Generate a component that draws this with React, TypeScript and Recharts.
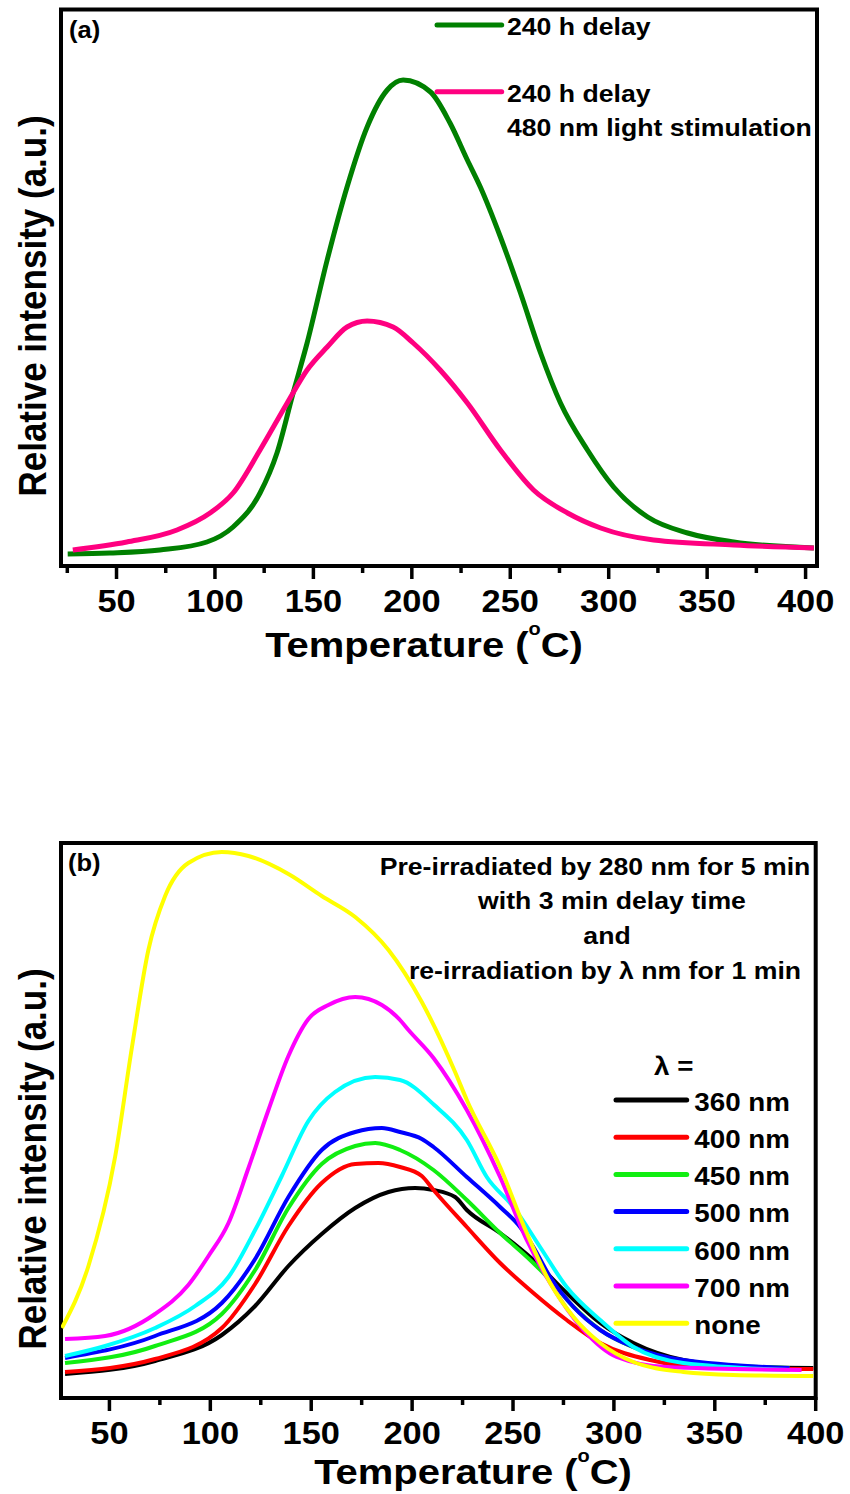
import React from 'react';
import { LineChart, Line, XAxis, YAxis, ReferenceArea, Legend, Customized } from 'recharts';

const FONT = '"Liberation Sans", Arial, Helvetica, sans-serif';
const SX = 1.11;

// ---------- Panel (a) ----------
const A_TICKS = [25, 50, 75, 100, 125, 150, 175, 200, 225, 250, 275, 300, 325, 350, 375, 400];
const A_DOMAIN_X = [21.8, 405.8];
const A_DOMAIN_Y = [0, 556.5];

const A_GREEN_T = [25.2, 46.6, 72, 95.9, 109.2, 122.9, 131.5, 139.7, 146.8, 157, 167.1, 177.3, 187.5, 195.6, 209.5, 219.4, 228.2, 234.8, 245, 255.2, 265.4, 275.5, 289.2, 302.5, 319.8, 340.1, 363.5, 404.2];
const A_GREEN_V = [12, 13, 16, 24, 39, 73, 113, 173, 223, 306, 379, 439, 476, 486, 474, 443, 406, 379, 329, 273, 213, 163, 116, 79, 49, 33, 24, 18];

const A_PINK_T = [27.8, 55.2, 80.7, 97.5, 109.2, 122.9, 136.7, 146.8, 157, 167.1, 177.3, 190.5, 200.7, 214.4, 228.2, 245, 261.8, 279.1, 295.9, 322.8, 363.5, 404.2];
const A_PINK_V = [16, 24, 36, 53, 73, 116, 163, 196, 219, 239, 245, 239, 223, 196, 163, 116, 76, 53, 38, 26, 21, 18];

const A_NAMES = ['240 h delay', '240 h delay\n480 nm light stimulation'];
const A_COLORS = ['#008000', '#FF0080'];

// ---------- Panel (b) ----------
const B_TICKS = [50, 75, 100, 125, 150, 175, 200, 225, 250, 275, 300, 325, 350, 375, 400];
const B_DOMAIN_X = [26, 400];
const B_DOMAIN_Y = [0, 555];

const B_360_T = [28, 72.6, 105.7, 122.2, 138.7, 155.2, 171.8, 188.3, 201.5, 210.6, 221.3, 227.1, 243.6, 260.1, 276.6, 293.2, 309.7, 334.4, 367.6, 398.8];
const B_360_V = [24, 37, 63, 92, 132, 164, 190, 206, 210, 208, 201, 188, 165, 138, 105, 75, 55, 38, 31, 30];

const B_400_T = [28, 72.6, 105.7, 122.2, 138.7, 155.2, 171.8, 183.3, 194, 204.8, 210.6, 227.1, 243.6, 260.1, 276.6, 293.2, 318, 342.6, 398.8];
const B_400_V = [26, 39, 70, 114, 172, 215, 234, 235, 231, 222, 208, 171, 135, 105, 78, 55, 38, 31, 29];

const B_450_T = [28, 72.6, 105.7, 122.2, 138.7, 155.2, 171.8, 181.7, 194, 210.6, 227.1, 243.6, 258.5, 268.4, 280, 293.2, 313, 342.6, 387];
const B_450_V = [35, 52, 84, 128, 190, 234, 252, 255, 248, 228, 198, 165, 138, 118, 91, 68, 48, 35, 30];

const B_500_T = [28, 72.6, 105.7, 122.2, 138.7, 155.2, 171.8, 185, 194, 204.8, 210.6, 227.1, 243.6, 253.5, 260.1, 268.4, 280, 293.2, 309.7, 334.4, 387];
const B_500_V = [40, 62, 95, 139, 201, 248, 266, 270, 266, 259, 251, 221, 191, 171, 151, 121, 91, 68, 51, 38, 30];

const B_600_T = [28, 47.9, 72.6, 92.5, 109, 122.2, 135.4, 148.6, 161.8, 181.7, 194, 211, 227.1, 237, 250.2, 263.4, 276.6, 293.2, 309.7, 334.4, 387.3];
const B_600_V = [42, 52, 70, 92, 121, 168, 222, 277, 306, 321, 318, 293, 258, 221, 191, 151, 111, 78, 51, 35, 28];

const B_700_T = [28, 47.9, 72.6, 89.1, 99.1, 109, 118.9, 128.8, 138.7, 148.6, 158.5, 171.8, 185, 194, 198.2, 210.6, 227.1, 243.6, 256.8, 268.4, 284.9, 301.4, 326.2, 393];
const B_700_V = [59, 62, 84, 113, 142, 175, 230, 288, 342, 379, 393, 401, 393, 378, 368, 340, 288, 221, 158, 115, 68, 41, 31, 28];

const B_NONE_T = [26.4, 39.6, 52.8, 61.1, 69.3, 77.6, 89.1, 105.7, 118.9, 138.7, 155.2, 171.8, 188.3, 204.8, 221.3, 227.1, 243.6, 256.8, 268.4, 280, 293.2, 309.7, 334.4, 359.2, 398.8];
const B_NONE_V = [70, 132, 241, 350, 448, 502, 535, 546, 542, 524, 502, 481, 448, 396, 326, 298, 231, 165, 115, 81, 55, 36, 26, 23, 22];

const B_NAMES = ['360 nm', '400 nm', '450 nm', '500 nm', '600 nm', '700 nm', 'none'];
const B_COLORS = ['#000000', '#FF0000', '#11EE11', '#0000FF', '#00FFFF', '#FF00FF', '#FFFF00'];
const B_T = [B_360_T, B_400_T, B_450_T, B_500_T, B_600_T, B_700_T, B_NONE_T];
const B_V = [B_360_V, B_400_V, B_450_V, B_500_V, B_600_V, B_700_V, B_NONE_V];

const B_NOTE = [
  'Pre-irradiated by 280 nm for 5 min',
  'with 3 min delay time',
  'and',
  're-irradiation by \u03bb nm for 1 min',
];

const zip = (t: number[], v: number[]) => t.map((x, i) => ({ t: x, v: v[i] }));

// ---------- helpers ----------
function ST({ x, y, size, anchor = 'start', rotate = false, children }: any) {
  const tf = rotate
    ? `translate(${x},${y}) rotate(-90) scale(1,${SX})`
    : `translate(${x},${y}) scale(${SX},1)`;
  return (
    <text transform={tf} x={0} y={0} fontSize={size} fontWeight="bold" fontFamily={FONT} textAnchor={anchor} fill="#000">
      {children}
    </text>
  );
}

const Tick = (props: any) => {
  const { x, y, payload } = props;
  const v = payload.value;
  const major = v % 50 === 0;
  return (
    <g>
      <line x1={x} y1={y - 1} x2={x} y2={y + (major ? 13 : 7)} stroke="#000" strokeWidth={3.5} />
      {major && (
        <ST x={x} y={y + 46} size={31} anchor="middle">
          {String(v)}
        </ST>
      )}
    </g>
  );
};

const XTitle = ({ x, y }: { x: number; y: number }) => (
  <ST x={x} y={y} size={36} anchor="middle">
    Temperature (
    <tspan fontSize={18} dy={-22}>o</tspan>
    <tspan fontSize={36} dy={22}>C)</tspan>
  </ST>
);

const LegendA = (props: any) => {
  const payload = props.payload && props.payload.length ? props.payload : A_NAMES.map((n, i) => ({ value: n, color: A_COLORS[i] }));
  const lineY = [25, 91.7];
  return (
    <svg width={400} height={150} style={{ overflow: 'visible' }}>
      {payload.map((p: any, i: number) => {
        const lines = String(p.value).split('\n');
        return (
          <g key={i}>
            <line x1={7} y1={lineY[i]} x2={71.7} y2={lineY[i]} stroke={p.color} strokeWidth={5} strokeLinecap="round" />
            {lines.map((s, j) => (
              <ST key={j} x={77} y={lineY[i] + 9.8 + j * 34} size={24}>
                {s}
              </ST>
            ))}
          </g>
        );
      })}
    </svg>
  );
};

const LegendB = (props: any) => {
  const payload = props.payload && props.payload.length ? props.payload : B_NAMES.map((n, i) => ({ value: n, color: B_COLORS[i] }));
  return (
    <svg width={240} height={320} style={{ overflow: 'visible' }}>
      <ST x={54} y={25} size={25}>{'\u03bb ='}</ST>
      {payload.map((p: any, i: number) => {
        const y = 50 + i * 37.2;
        return (
          <g key={i}>
            <line x1={16} y1={y} x2={86.7} y2={y} stroke={p.color} strokeWidth={5} strokeLinecap="round" />
            <ST x={94.3} y={y + 10.7} size={25}>{p.value}</ST>
          </g>
        );
      })}
    </svg>
  );
};

const AnnotA = () => (
  <g>
    <ST x={69} y={38} size={23}>(a)</ST>
    <ST x={46} y={306} size={35} anchor="middle" rotate>Relative intensity (a.u.)</ST>
    <XTitle x={424} y={657} />
  </g>
);

const NOTE_X = [595, 612, 607, 605];
const NOTE_Y = [74.5, 108.5, 143.5, 178.5];

const AnnotB = () => (
  <g>
    <ST x={68} y={71} size={23}>(b)</ST>
    <ST x={46} y={359} size={35} anchor="middle" rotate>Relative intensity (a.u.)</ST>
    <XTitle x={473} y={684} />
    {B_NOTE.map((s, i) => (
      <ST key={i} x={NOTE_X[i]} y={NOTE_Y[i]} size={24} anchor="middle">{s}</ST>
    ))}
  </g>
);

export default function App() {
  return (
    <div style={{ position: 'absolute', left: 0, top: 0, width: 850, height: 1494, background: '#fff', overflow: 'hidden' }}>
      <div style={{ position: 'absolute', left: 0, top: 0 }}>
        <LineChart width={850} height={700} margin={{ top: 9.5, right: 33, bottom: 104, left: 61 }}>
          <XAxis
            type="number"
            dataKey="t"
            domain={A_DOMAIN_X}
            ticks={A_TICKS}
            interval={0}
            tickSize={0}
            tickMargin={0}
            tickLine={false}
            axisLine={false}
            height={30}
            allowDataOverflow
            tick={(p: any) => <Tick {...p} />}
          />
          <YAxis hide type="number" domain={A_DOMAIN_Y} allowDataOverflow />
          <Line data={zip(A_GREEN_T, A_GREEN_V)} dataKey="v" name={A_NAMES[0]} stroke={A_COLORS[0]} strokeWidth={5} type="monotone" dot={false} isAnimationActive={false} />
          <Line data={zip(A_PINK_T, A_PINK_V)} dataKey="v" name={A_NAMES[1]} stroke={A_COLORS[1]} strokeWidth={5} type="monotone" dot={false} isAnimationActive={false} />
          <ReferenceArea x1={A_DOMAIN_X[0]} x2={A_DOMAIN_X[1]} y1={A_DOMAIN_Y[0]} y2={A_DOMAIN_Y[1]} fill="none" stroke="#000" strokeWidth={4} ifOverflow="visible" />
          <Legend layout="vertical" align="center" verticalAlign="middle" wrapperStyle={{ left: 430, top: 0, width: 400, height: 150 }} content={(p: any) => <LegendA {...p} />} />
          <Customized component={AnnotA} />
        </LineChart>
      </div>
      <div style={{ position: 'absolute', left: 0, top: 800 }}>
        <LineChart width={850} height={694} margin={{ top: 43, right: 34.3, bottom: 66, left: 61 }}>
          <XAxis
            type="number"
            dataKey="t"
            domain={B_DOMAIN_X}
            ticks={B_TICKS}
            interval={0}
            tickSize={0}
            tickMargin={0}
            tickLine={false}
            axisLine={false}
            height={30}
            allowDataOverflow
            tick={(p: any) => <Tick {...p} />}
          />
          <YAxis hide type="number" domain={B_DOMAIN_Y} allowDataOverflow />
          {B_NAMES.map((n, i) => (
            <Line key={n} data={zip(B_T[i], B_V[i])} dataKey="v" name={n} stroke={B_COLORS[i]} strokeWidth={4} type="monotone" dot={false} isAnimationActive={false} />
          ))}
          <ReferenceArea x1={B_DOMAIN_X[0]} x2={B_DOMAIN_X[1]} y1={B_DOMAIN_Y[0]} y2={B_DOMAIN_Y[1]} fill="none" stroke="#000" strokeWidth={4} ifOverflow="visible" />
          <Legend layout="vertical" align="center" verticalAlign="middle" wrapperStyle={{ left: 600, top: 250, width: 240, height: 320 }} content={(p: any) => <LegendB {...p} />} />
          <Customized component={AnnotB} />
        </LineChart>
      </div>
    </div>
  );
}
